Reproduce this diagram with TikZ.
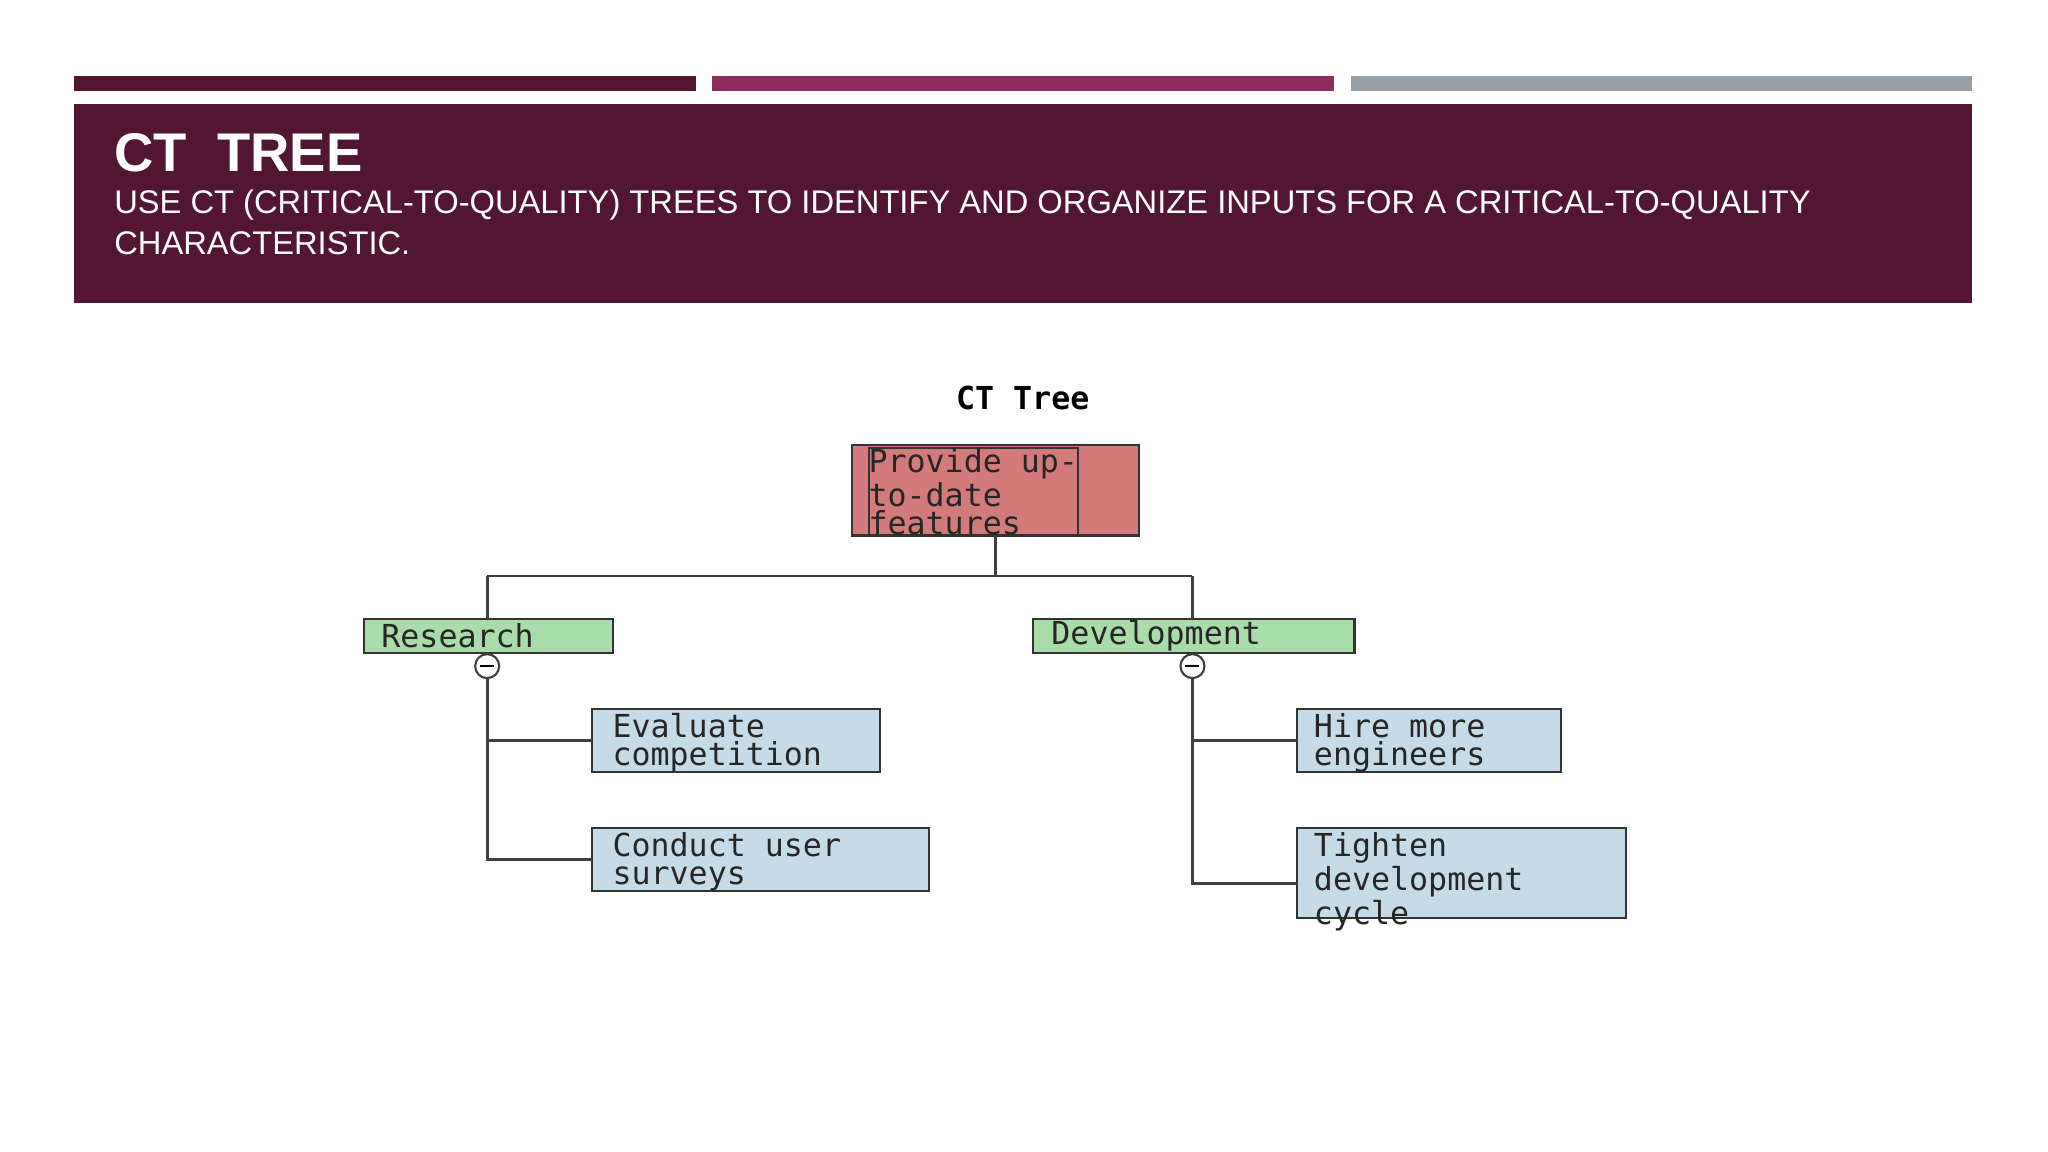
\documentclass[tikz,border=0pt]{standalone}
\usepackage{fontspec}
\setmainfont{Liberation Sans}
\newfontfamily\boxfont{DejaVu Sans Mono}
\definecolor{darkplum}{HTML}{521633}
\definecolor{plum}{HTML}{8E2C60}
\definecolor{slate}{HTML}{95A0A9}
\definecolor{rootred}{HTML}{D37B7B}
\definecolor{leafgreen}{HTML}{A8DCA8}
\definecolor{leafblue}{HTML}{C5DCE8}
\begin{document}
\begin{tikzpicture}[x=0.01306cm,y=-0.01306cm,
    ctbox/.style={rectangle,draw=black!80,line width=0.6pt,anchor=north west,
      inner sep=0pt,font=\boxfont\fontsize{9}{8}\selectfont,text=black!85,
      align=left,outer sep=0pt},
    link/.style={draw=black!75,line width=0.8pt},
    knob/.style={circle,draw=black!75,fill=white,line width=0.6pt,minimum size=0.24cm,inner sep=0pt}
    ]
    \useasboundingbox (0,0) rectangle (1568,882);
    \fill[white] (0,0) rectangle (1568,882);
    % top bars and header
    \fill[darkplum] (57,58) rectangle (533,70);
    \fill[plum] (545,58) rectangle (1021,70);
    \fill[slate] (1034,58) rectangle (1510,70);
    \fill[darkplum] (57,80) rectangle (1510,232);
    \node[anchor=west,text=white,font=\bfseries\fontsize{15.5}{18}\selectfont,inner sep=0pt] (title) at (87,117) {CT\ \ TREE};
    \node[anchor=north west,text=white,font=\fontsize{9.3}{11.6}\selectfont,inner sep=0pt,align=left] (sub) at (87,145)
      {USE CT (CRITICAL-TO-QUALITY) TREES TO IDENTIFY AND ORGANIZE INPUTS FOR A CRITICAL-TO-QUALITY\\CHARACTERISTIC.};
    % tree
    \node[font=\boxfont\bfseries\fontsize{9}{10}\selectfont] (cap) at (783,305) {CT Tree};
    \node[ctbox,fill=rootred,minimum width=220*0.01306cm,minimum height=69*0.01306cm] (root) at (652,341) {};
    \node[ctbox,anchor=north west] at (665,343) {Provide up-\\to-date\\features};
    \node[ctbox,fill=leafgreen,minimum width=190*0.01306cm,minimum height=26*0.01306cm] (res) at (279,474) {};
    \node[ctbox,draw=none,anchor=west] at (292,487) {Research};
    \node[ctbox,fill=leafgreen,minimum width=246*0.01306cm,minimum height=26*0.01306cm] (dev) at (791,474) {};
    \node[ctbox,draw=none,anchor=west] at (805,487) {Development};
    \node[ctbox,fill=leafblue,minimum width=221*0.01306cm,minimum height=48*0.01306cm] (eval) at (453,543) {};
    \node[ctbox,draw=none] at (469,546) {Evaluate\\competition};
    \node[ctbox,fill=leafblue,minimum width=258*0.01306cm,minimum height=48*0.01306cm] (cond) at (453,634) {};
    \node[ctbox,draw=none] at (469,637) {Conduct user\\surveys};
    \node[ctbox,fill=leafblue,minimum width=202*0.01306cm,minimum height=48*0.01306cm] (hire) at (993,543) {};
    \node[ctbox,draw=none] at (1006,546) {Hire more\\engineers};
    \node[ctbox,fill=leafblue,minimum width=252*0.01306cm,minimum height=69*0.01306cm] (tight) at (993,634) {};
    \node[ctbox,draw=none] at (1006,637) {Tighten\\development\\cycle};
    \coordinate (fork) at (762,441);
    \draw[link] (root.south) -- (fork);
    \draw[link] (373,441) -- (913,441);
    \draw[link] (373,441) -- (373,474);
    \draw[link] (913,441) -- (913,474);
    \node[knob] (kres) at (373,510) {};
    \node[knob] (kdev) at (913,510) {};
    \draw[line width=0.6pt] ([xshift=-0.07cm]kres.center) -- ([xshift=0.07cm]kres.center);
    \draw[line width=0.6pt] ([xshift=-0.07cm]kdev.center) -- ([xshift=0.07cm]kdev.center);
    \draw[link] (kres.south) |- (cond.west);
    \draw[link] (373,567) -- (eval.west);
    \draw[link] (kdev.south) |- ([yshift=-0.1cm]tight.west);
    \draw[link] (913,567) -- (hire.west);
\end{tikzpicture}
\end{document}
